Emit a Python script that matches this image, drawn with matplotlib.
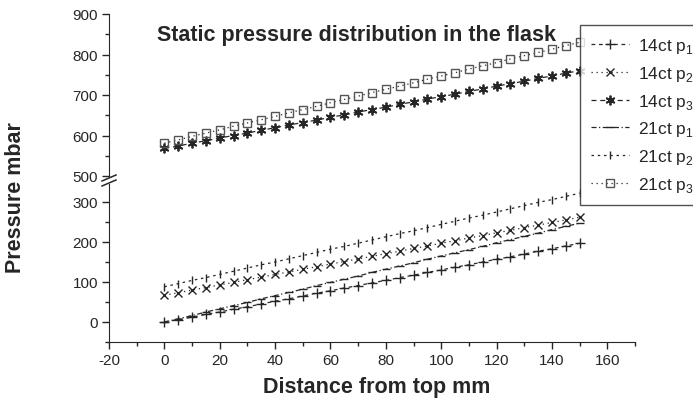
import matplotlib
matplotlib.use('Agg')
import matplotlib.pyplot as plt
from matplotlib.lines import Line2D
from matplotlib.ticker import MultipleLocator

plt.rcParams['font.family'] = ['Liberation Sans', 'DejaVu Sans']
plt.rcParams['mathtext.fontset'] = 'custom'
plt.rcParams['mathtext.rm'] = 'Liberation Sans'
plt.rcParams['axes.unicode_minus'] = False

INK = '#262626'

# distance from top of the flask, mm
distance_mm = [0, 5, 10, 15, 20, 25, 30, 35, 40, 45, 50, 55, 60, 65, 70, 75,
               80, 85, 90, 95, 100, 105, 110, 115, 120, 125, 130, 135, 140, 145, 150]

# static pressure, mbar
p1_14ct = [0, 6, 12, 19, 25, 32, 38, 45, 52, 58, 65, 72, 78, 85, 91, 98,
           104, 111, 117, 124, 130, 137, 143, 150, 157, 163, 170, 177, 183, 190, 197]
p2_14ct = [67, 73, 80, 86, 93, 99, 106, 112, 119, 125, 132, 138, 145, 151, 158, 164,
           171, 177, 184, 190, 197, 203, 210, 216, 223, 229, 236, 242, 249, 255, 262]
p3_14ct = [568, 574, 581, 587, 594, 600, 606, 613, 619, 626, 632, 638, 645, 651, 658, 664,
           670, 677, 683, 690, 696, 702, 709, 715, 722, 728, 734, 741, 747, 754, 760]
p1_21ct = [0, 8, 16, 25, 33, 41, 49, 58, 66, 74, 82, 91, 99, 107, 115, 124,
           132, 140, 148, 157, 165, 173, 181, 189, 198, 206, 214, 222, 231, 239, 247]
p2_21ct = [88, 96, 104, 111, 119, 127, 135, 143, 150, 158, 166, 174, 182, 189, 197, 205,
           213, 221, 228, 236, 244, 252, 260, 267, 275, 283, 291, 299, 306, 314, 322]
p3_21ct = [581, 589, 598, 606, 614, 623, 631, 639, 647, 656, 664, 672, 681, 689, 697, 706,
           714, 722, 730, 739, 747, 755, 764, 772, 780, 789, 797, 805, 813, 822, 830]

series = [
  ('14ct p$_\\mathregular{1}$', p1_14ct, dict(marker='+', ms=6.5, ls=(0, (3, 3)))),
  ('14ct p$_\\mathregular{2}$', p2_14ct, dict(marker='x', ms=5.5, ls=(0, (1, 3)))),
  ('14ct p$_\\mathregular{3}$', p3_14ct, dict(marker=(6, 2, 0), ms=7, mew=1.3, ls=(0, (4, 3)))),
  ('21ct p$_\\mathregular{1}$', p1_21ct, dict(marker='_', ms=6, ls=(0, (4, 2, 1, 2)))),
  ('21ct p$_\\mathregular{2}$', p2_21ct, dict(marker='|', ms=6, ls=(0, (2, 3)))),
  ('21ct p$_\\mathregular{3}$', p3_21ct, dict(marker='s', ms=5.5, ls=(0, (1, 3)),
                                             mfc='none', mec='#555555')),
]

W, H = 693, 406
fig = plt.figure(figsize=(W / 100, H / 100), dpi=100)
ax_top = fig.add_axes([109 / W, 1 - 177 / H, 526 / W, 162 / H])
ax_bot = fig.add_axes([109 / W, 1 - 343 / H, 526 / W, 158 / H])

handles = []
for label, values, style in series:
  kw = dict(color=INK, lw=0.9, mew=1.0)
  kw.update(style)
  target = ax_top if min(values) >= 500 else ax_bot
  line, = target.plot(distance_mm, values, label=label, **kw)
  handles.append(line)

ax_top.set_xlim(-20, 170)
ax_bot.set_xlim(-20, 170)
ax_top.set_ylim(500, 900)
ax_bot.set_ylim(-50, 345)

for ax in (ax_top, ax_bot):
  for side in ('top', 'right'):
    ax.spines[side].set_visible(False)
  ax.spines['left'].set_color(INK)
  ax.spines['bottom'].set_color(INK)
  ax.patch.set_alpha(0)
  ax.yaxis.set_major_locator(MultipleLocator(100))
  ax.yaxis.set_minor_locator(MultipleLocator(50))
  ax.xaxis.set_major_locator(MultipleLocator(20))
  ax.xaxis.set_minor_locator(MultipleLocator(10))
  ax.tick_params(which='both', direction='out', colors=INK, labelsize=11, width=1)
  ax.tick_params(which='major', length=5, pad=3)
  ax.tick_params(which='minor', length=3)

ax_top.spines['bottom'].set_visible(False)
ax_top.tick_params(axis='x', which='both', bottom=False, labelbottom=False)
ax_bot.set_yticks([0, 100, 200, 300])

# axis break marks
for yb in (179, 184):
  fig.add_artist(Line2D([102 / W, 116 / W], [1 - (yb + 3) / H, 1 - (yb - 3) / H],
                        color=INK, lw=1.1, transform=fig.transFigure))

fig.text(157 / W, 1 - 41 / H, 'Static pressure distribution in the flask',
         fontsize=15.5, fontweight='bold', color=INK, ha='left', va='baseline')
fig.text(377 / W, 1 - 393 / H, 'Distance from top mm', fontsize=15.5,
         fontweight='bold', color=INK, ha='center', va='baseline')
fig.text(16 / W, 1 - 198 / H, 'Pressure mbar', fontsize=15.5, fontweight='bold',
         color=INK, ha='center', va='center', rotation=90)

leg = fig.legend(handles=handles, loc='upper left', bbox_to_anchor=(580 / W, 1 - 26 / H),
                 fontsize=12.5, frameon=True, fancybox=False, borderaxespad=0,
                 handlelength=2.2, handletextpad=0.5, labelspacing=0.5,
                 borderpad=0.65, numpoints=1)
leg.get_frame().set_edgecolor(INK)
leg.get_frame().set_linewidth(1.0)
for text in leg.get_texts():
  text.set_color(INK)

fig.savefig('out.png', dpi=100)
